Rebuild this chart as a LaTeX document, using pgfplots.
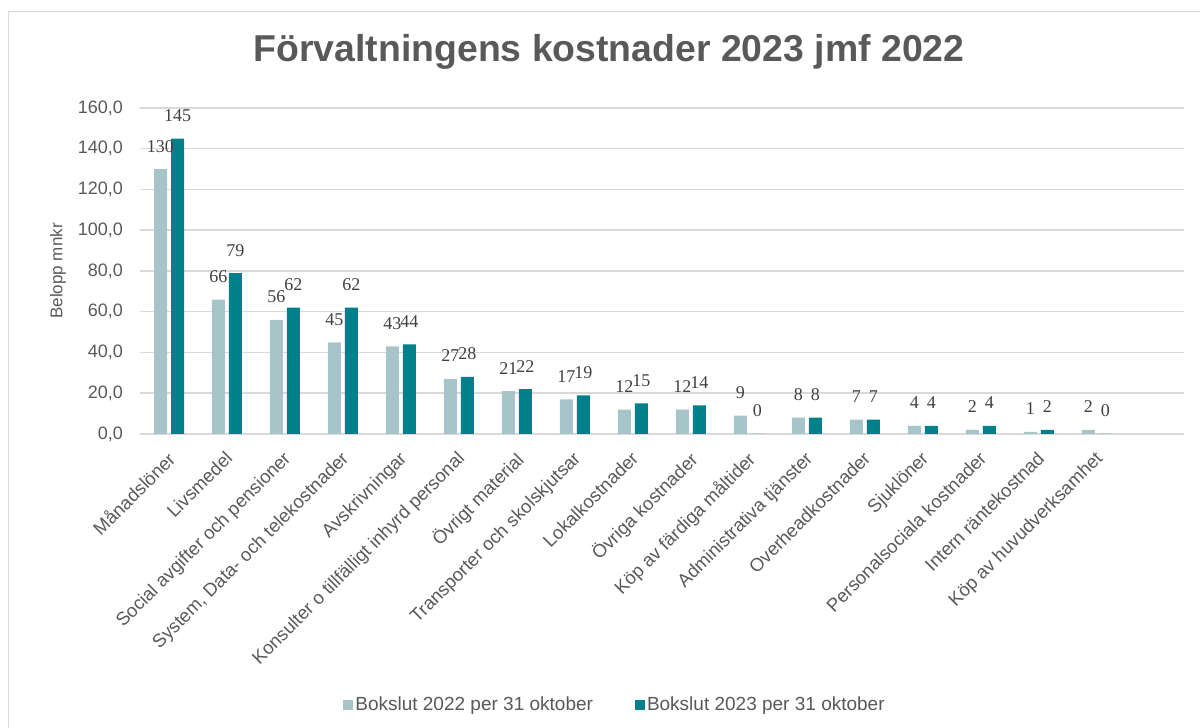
\documentclass[border=0pt]{standalone}
\usepackage{fontspec}
\setmainfont{Liberation Sans}
\newfontfamily\lserif{Liberation Serif}
\usepackage{pgfplots}
\usepackage{pgfplotstable}
\pgfplotsset{compat=1.18}
\definecolor{c22}{HTML}{A7C4C9}
\definecolor{c23}{HTML}{00808A}
\definecolor{txt}{HTML}{595959}
\definecolor{lbl}{HTML}{404040}
\definecolor{gridc}{HTML}{D9D9D9}

\pgfplotstableread{
x y22 y23
0 130 145
1 66 79
2 56 62
3 45 62
4 43 44
5 27 28
6 21 22
7 17 19
8 12 15
9 12 14
10 9 0
11 8 8
12 7 7
13 4 4
14 2 4
15 1 2
16 2 0
}\data

\begin{document}
\begin{tikzpicture}[x=1pt,y=1pt]
\useasboundingbox (0,0) rectangle (1200,728);
\draw[gridc, line width=1.5pt] (8.5,0) -- (8.5,716.5) -- (1200,716.5);
\node[font=\fontsize{37.4}{40}\selectfont\bfseries, text=txt] at (609,676) {Förvaltningens kostnader 2023 jmf 2022};
\begin{axis}[
  at={(140pt,294pt)}, anchor=south west, scale only axis,
  width=1044pt, height=326pt,
  ybar=4pt, bar width=13pt,
  xmin=-0.5, xmax=17.5, ymin=0, ymax=160,
  xtick={0,...,16},
  xticklabels={Månadslöner, Livsmedel, Social avgifter och pensioner, {System, Data- och telekostnader}, Avskrivningar, Konsulter o tillfälligt inhyrd personal, Övrigt material, Transporter och skolskjutsar, Lokalkostnader, Övriga kostnader, Köp av färdiga måltider, Administrativa tjänster, Overheadkostnader, Sjuklöner, Personalsociala kostnader, Intern räntekostnad, Köp av huvudverksamhet},
  ytick={0,20,...,160},
  major tick length=0pt,
  axis line style={draw=none},
  ymajorgrids, grid style={gridc, line width=1.5pt},
  /pgf/number format/assume math mode=true,
  yticklabel style={font=\fontsize{18}{20}\selectfont, text=txt, /pgf/number format/.cd, fixed, fixed zerofill, precision=1, use comma, /tikz/.cd, inner sep=0pt, xshift=-17pt},
  xticklabel style={font=\fontsize{18.5}{21}\selectfont, text=txt, xshift=-3pt, yshift=-16pt, rotate=45, anchor=north east, inner sep=0pt},
  ylabel={Belopp mnkr},
  every axis y label/.style={at={(rel axis cs:0,0.5)}, xshift=-82pt, rotate=90, anchor=center, font=\fontsize{17}{20}\selectfont, text=txt},
  nodes near coords,
  every node near coord/.append style={font=\lserif\fontsize{18}{18}\selectfont, text=lbl, anchor=base, inner sep=0pt, yshift=17pt},
  legend style={at={(0.455,-0.83)}, anchor=center, draw=none, legend columns=2,
    font=\fontsize{19}{21}\selectfont, text=txt,
    /tikz/every even column/.append style={column sep=40pt}},
  legend image code/.code={\fill[#1] (0pt,-5pt) rectangle (10pt,5pt);},
]
\addplot[fill=c22, draw=none] table[x=x, y=y22] {\data};
\addplot[fill=c23, draw=none] table[x=x, y=y23] {\data};
\legend{Bokslut 2022 per 31 oktober, Bokslut 2023 per 31 oktober}
\end{axis}
\end{tikzpicture}
\end{document}
